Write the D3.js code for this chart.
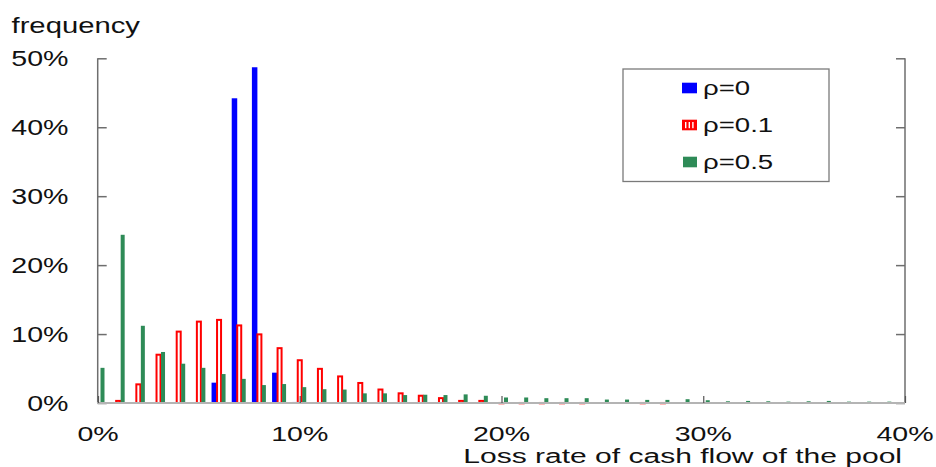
<!DOCTYPE html>
<html>
<head>
<meta charset="utf-8">
<script src="https://cdn.jsdelivr.net/npm/d3@7"></script>
<style>
  html, body { margin: 0; padding: 0; background: #fff; }
  svg { display: block; }
  text { font-family: "Liberation Sans", Arial, sans-serif; fill: #111; }
</style>
</head>
<body>
<svg id="chart" width="936" height="467"></svg>
<script>
// ---- data ----
const categories = [0,1,2,3,4,5,6,7,8,9,10,11,12,13,14,15,16,17,18,19,
                    20,21,22,23,24,25,26,27,28,29,30,31,32,33,34,35,36,37,38,39];
const rho0  = [0,0,0,0,0,0,2.95,44.2,48.7,4.4,0.15,0,0,0,0,0,0,0,0,0,
               0,0,0,0,0,0,0,0,0,0,0,0,0,0,0,0,0,0,0,0];
const rho01 = [0,0.45,2.85,7.15,10.5,11.95,12.2,11.4,10.1,8.1,6.35,5.1,4.0,3.05,2.1,1.55,1.2,0.85,0.45,0.45,
               0.15,0.15,0.15,0.15,0.15,0,0,0.15,0.15,0,0,0,0,0,0,0,0,0,0,0];
const rho05 = [5.1,24.4,11.2,7.4,5.7,5.1,4.2,3.5,2.6,2.75,2.3,2.0,1.95,1.4,1.4,1.15,1.2,1.15,1.25,1.05,
               0.8,0.8,0.7,0.7,0.7,0.5,0.5,0.45,0.45,0.55,0.4,0.25,0.3,0.25,0.2,0.25,0.3,0.2,0.2,0.2];
const xTicks = [0,10,20,30,40];
const yTicks = [0,10,20,30,40,50];
const seriesNames = ["ρ=0","ρ=0.1","ρ=0.5"];
const yTitle = "frequency";
const xTitle = "Loss rate of cash flow of the pool";

// ---- layout ----
const svg = d3.select("#chart");
const SX = 1.33;          // horizontal stretch of the original lettering
const x = d3.scaleLinear().domain([0, 40]).range([98, 905]);
const y = d3.scaleLinear().domain([0, 50]).range([403, 58.3]);
const blue = "#0000ff", red = "#ff0000", green = "#2e8b57";

function stretchedText(g, str, tx, ty, size, anchor, sx) {
  return g.append("text")
    .attr("transform", `translate(${tx},${ty}) scale(${sx || SX},1)`)
    .attr("font-size", size)
    .attr("text-anchor", anchor || "start")
    .text(str);
}

// ---- bars ----
const bars = svg.append("g");
bars.selectAll("rect.b0").data(categories).join("rect")
  .attr("x", d => x(d) - 7.5).attr("width", 5.5)
  .attr("y", (d, i) => y(rho0[i])).attr("height", (d, i) => y(0) - y(rho0[i]))
  .attr("fill", blue);
const redCats = categories.filter((d, i) => rho01[i] > 0);
bars.selectAll("rect.b1").data(redCats).join("rect")
  .attr("x", d => x(d) - 2).attr("width", 4)
  .attr("y", d => y(rho01[categories.indexOf(d)]) + 1)
  .attr("height", d => Math.max(0.3, y(0) - y(rho01[categories.indexOf(d)]) - 1))
  .attr("fill", "#fff").attr("stroke", red).attr("stroke-width", 2);
bars.selectAll("rect.b2").data(categories).join("rect")
  .attr("x", d => x(d) + 2.5).attr("width", 4)
  .attr("y", (d, i) => y(rho05[i])).attr("height", (d, i) => y(0) - y(rho05[i]))
  .attr("fill", green);

// ---- axes ----
const axisCol = "#6e6e6e";
const left = d3.axisRight(y).tickValues(yTicks).tickSize(9).tickFormat("");
svg.append("g").attr("transform", `translate(${x(0) - 0.3},0)`).call(left)
  .call(g => g.select(".domain").remove())
  .call(g => g.selectAll("line").attr("stroke", axisCol).attr("stroke-width", 1.5));
svg.append("line").attr("x1", x(0) - 0.3).attr("x2", x(0) - 0.3)
  .attr("y1", y(50)).attr("y2", y(0)).attr("stroke", axisCol).attr("stroke-width", 1.5);

const right = d3.axisLeft(y).tickValues(yTicks).tickSize(9).tickFormat("");
svg.append("g").attr("transform", `translate(${x(40)},0)`).call(right)
  .call(g => g.select(".domain").remove())
  .call(g => g.selectAll("line").attr("stroke", axisCol).attr("stroke-width", 1.5));
svg.append("line").attr("x1", x(40)).attr("x2", x(40))
  .attr("y1", y(50)).attr("y2", y(0)).attr("stroke", axisCol).attr("stroke-width", 1.5);

// baseline
svg.append("line").attr("x1", x(0) - 1).attr("x2", x(40))
  .attr("y1", y(0)).attr("y2", y(0)).attr("stroke", "#b4b4b4").attr("stroke-width", 2);
const bottom = d3.axisTop(x).tickValues(xTicks).tickSize(7).tickFormat("");
svg.append("g").attr("transform", `translate(0,${y(0)})`).call(bottom)
  .call(g => g.select(".domain").remove())
  .call(g => g.selectAll("line").attr("stroke", "#555").attr("stroke-width", 1.2));

// ---- tick labels ----
const labels = svg.append("g");
yTicks.forEach(t => stretchedText(labels, t + "%", 68.5, y(t) + 7.5, 21.5, "end"));
xTicks.forEach(t => stretchedText(labels, t + "%", x(t), 441.3, 21, "middle", 1.36));

// titles
stretchedText(svg, yTitle, 11.5, 32.5, 22, "start");
stretchedText(svg, xTitle, 902, 463, 19.5, "end", 1.54);

// ---- legend ----
const lg = svg.append("g");
lg.append("rect").attr("x", 623).attr("y", 69).attr("width", 206).attr("height", 112.5)
  .attr("fill", "#fff").attr("stroke", "#7a7a7a").attr("stroke-width", 1.3);
const rowY = [88, 125, 162];
// blue swatch
lg.append("rect").attr("x", 682).attr("y", rowY[0] - 5.3).attr("width", 15).attr("height", 10.6).attr("fill", blue);
// red striped swatch
lg.append("rect").attr("x", 682).attr("y", rowY[1] - 5.3).attr("width", 15).attr("height", 10.6).attr("fill", red);
[0, 1, 2].forEach(k => lg.append("rect").attr("x", 685 + k * 3.6).attr("y", rowY[1] - 3)
  .attr("width", 1.4).attr("height", 6.2).attr("fill", "#fff"));
// green swatch
lg.append("rect").attr("x", 683).attr("y", rowY[2] - 5.3).attr("width", 14).attr("height", 10.6).attr("fill", green);
seriesNames.forEach((s, i) => stretchedText(lg, s, 703, rowY[i] + 7.3, 20, "start", 1.38));
</script>
</body>
</html>
